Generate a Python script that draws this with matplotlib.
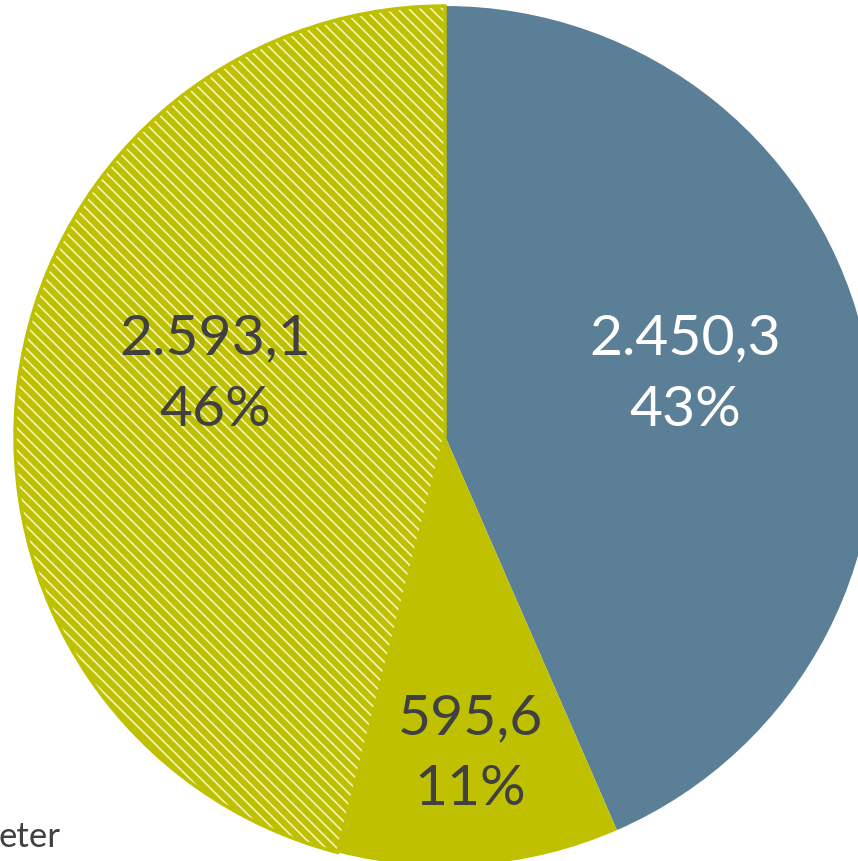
import matplotlib.pyplot as plt
import matplotlib.patches as mpatches
import numpy as np

# data
values = [2450.3, 595.6, 2593.1]
value_labels = ['2.450,3', '595,6', '2.593,1']
pct_labels = ['43%', '11%', '46%']
colors = ['#5b7f97', '#bfc100', '#bfc100']
text_colors = ['white', '#404040', '#404040']
# label placement (radius fraction, angle shift in degrees)
label_dist = [0.576, 0.74, 0.554]
label_shift = [2.7, 0.0, -8.0]

plt.rcParams['font.family'] = ['Lato', 'DejaVu Sans']
plt.rcParams['hatch.linewidth'] = 1.2
plt.rcParams['hatch.color'] = '#f2f5bc'

fig = plt.figure(figsize=(8.58, 8.62), dpi=100)
ax = fig.add_axes([0, 0, 1, 1])

wedges, _ = ax.pie(values, colors=colors, startangle=90, counterclock=False,
                   radius=1.0, wedgeprops=dict(linewidth=0))
# hatched slice
wedges[2].set_hatch('\\\\\\')
wedges[2].set_edgecolor('#f2f5bc')
wedges[2].set_linewidth(0)
w = wedges[2]
ax.add_patch(mpatches.Wedge(w.center, w.r, w.theta1, w.theta2, fill=False,
                            edgecolor='#bfc100', linewidth=2.5))

for i, w in enumerate(wedges):
    ang = np.deg2rad((w.theta1 + w.theta2) / 2 + label_shift[i])
    x = label_dist[i] * np.cos(ang)
    y = label_dist[i] * np.sin(ang)
    ax.text(x, y, value_labels[i] + '\n' + pct_labels[i], ha='center', va='center',
            fontsize=41, fontweight=400, color=text_colors[i], linespacing=1.5)

ax.set_xlim(-445 / 430, (858 - 445) / 430)
ax.set_ylim(-(862 - 437) / 430, 437 / 430)
ax.set_aspect('auto')
ax.axis('off')

fig.text(-0.002, 0.029, 'eter', fontsize=25, fontweight=400, color='#404040',
         ha='left', va='center')

fig.savefig('out.png', dpi=100)
